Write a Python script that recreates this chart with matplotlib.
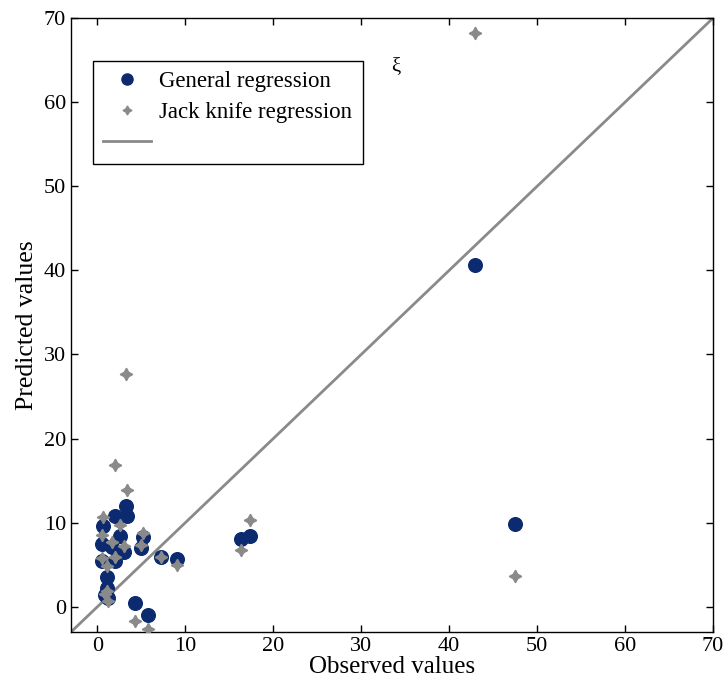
import matplotlib
matplotlib.use("Agg")
import matplotlib.pyplot as plt
from matplotlib.lines import Line2D

observed = [42.9, 47.5, 3.3, 1.95, 3.35, 0.65, 2.6, 5.15, 0.55, 1.65, 5.0, 3.05,
            7.2, 9.0, 0.5, 1.95, 16.3, 17.3, 1.1, 1.1, 0.85, 1.2, 4.3, 5.8]
general = [40.6, 9.8, 12.0, 10.8, 10.8, 9.6, 8.4, 8.25, 7.5, 7.07, 7.0, 6.5,
           5.9, 5.7, 5.4, 5.5, 8.1, 8.4, 3.6, 2.25, 1.4, 1.07, 0.4, -1.0]
jackknife = [68.2, 3.7, 27.7, 16.8, 13.9, 10.7, 9.75, 8.77, 8.57, 7.66, 7.4, 7.19,
             5.9, 4.94, 5.8, 5.9, 6.7, 10.3, 4.8, 1.9, 1.5, 0.7, -1.7, -2.6]
lims = [-3, 70]
ticks = [0, 10, 20, 30, 40, 50, 60, 70]

plt.rcParams['font.family'] = ['Liberation Serif', 'DejaVu Serif']

fig = plt.figure(figsize=(7.28, 6.93), dpi=100)
ax = fig.add_axes([0.0975, 0.088, 0.882, 0.886])

navy = '#0b2a6f'
gray = '#8a8a8a'

ax.plot(lims, lims, color=gray, lw=2, zorder=1)
ax.plot(observed, general, 'o', color=navy, ms=9.8, ls='none', zorder=2)
ax.plot(observed, jackknife, marker=(4, 1, 0), color=gray, ms=9, ls='none', zorder=3)

ax.set_xlim(lims)
ax.set_ylim(lims)
ax.set_xticks(ticks)
ax.set_yticks(ticks)
ax.tick_params(direction='in', top=True, right=True, length=5, labelsize=16, width=1)
for s in ax.spines.values():
    s.set_linewidth(1)
ax.set_xlabel('Observed values', fontsize=18, labelpad=0)
ax.set_ylabel('Predicted values', fontsize=18.5, labelpad=4)

ax.text(33.9, 64.2, 'ξ', fontsize=15, ha='center', va='center')

handles = [Line2D([], [], marker='o', color=navy, ls='none', ms=8),
           Line2D([], [], marker=(4, 1, 0), color=gray, ls='none', ms=6.5),
           Line2D([], [], color=gray, lw=2)]
labels = ['General regression', 'Jack knife regression', ' ']
leg = ax.legend(handles, labels, loc='upper left', bbox_to_anchor=(0.034, 0.93),
                fontsize=16.5, frameon=True, fancybox=False, framealpha=1,
                edgecolor='black', borderpad=0.45, handlelength=2.1,
                handletextpad=0.35, labelspacing=0.42, borderaxespad=0)
leg.get_frame().set_linewidth(1)

fig.savefig('out.png', dpi=100)
